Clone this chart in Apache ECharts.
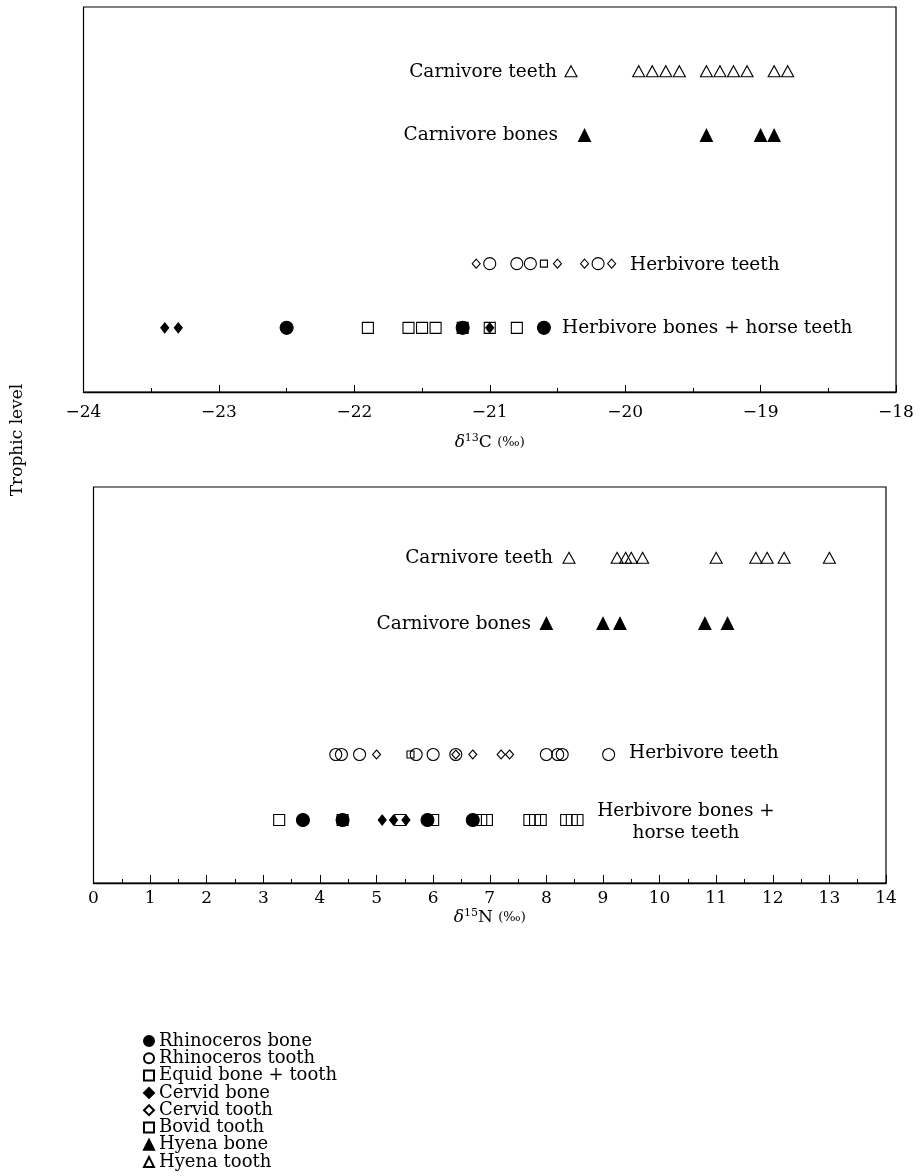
<!DOCTYPE html>
<html>
<head>
<meta charset="utf-8">
<script src="https://cdn.jsdelivr.net/npm/echarts@6/dist/echarts.min.js"></script>
<style>
  html, body { margin: 0; padding: 0; background: #fff; }
  #chart { width: 920px; height: 1176px; }
</style>
</head>
<body>
<div id="chart"></div>
<script>
// ---- Row levels (trophic rows, bottom to top) ----
const rowNames = ['Herbivore bones + horse teeth', 'Herbivore teeth', 'Carnivore bones', 'Carnivore teeth'];
const rowLevel = [1, 2, 4, 5];

// ---- Legend categories ----
const legendNames = ['Rhinoceros bone', 'Rhinoceros tooth', 'Equid bone + tooth', 'Cervid bone',
                     'Cervid tooth', 'Bovid tooth', 'Hyena bone', 'Hyena tooth'];

// ---- δ13C values (top panel) ----
const c13HyenaTooth  = [-20.4, -19.9, -19.8, -19.7, -19.6, -19.4, -19.3, -19.2, -19.1, -18.9, -18.8];
const c13HyenaBone   = [-20.3, -19.4, -19.0, -18.9];
const c13RhinoTooth  = [-21.0, -20.8, -20.7, -20.2];
const c13CervidTooth = [-21.1, -20.5, -20.3, -20.1];
const c13BovidTooth  = [-20.6];
const c13RhinoBone   = [-22.5, -21.2, -20.6];
const c13Equid       = [-21.9, -21.6, -21.5, -21.4, -21.2, -21.0, -20.8];
const c13CervidBone  = [-23.4, -23.3, -21.0];

// ---- δ15N values (bottom panel) ----
const n15HyenaTooth  = [8.4, 9.25, 9.4, 9.5, 9.7, 11.0, 11.7, 11.9, 12.2, 13.0];
const n15HyenaBone   = [8.0, 9.0, 9.3, 10.8, 11.2];
const n15RhinoTooth  = [4.28, 4.38, 4.7, 5.7, 6.0, 6.4, 8.0, 8.2, 8.28, 9.1];
const n15CervidTooth = [5.0, 6.4, 6.7, 7.2, 7.35];
const n15BovidTooth  = [5.6];
const n15RhinoBone   = [3.7, 4.4, 5.9, 6.7];
const n15Equid       = [3.28, 4.4, 5.42, 6.0, 6.85, 6.95, 7.7, 7.8, 7.9, 8.35, 8.45, 8.55];
const n15CervidBone  = [5.1, 5.3, 5.52];

// ---- axis settings ----
const c13Axis = { min: -24, max: -18, interval: 1 };
const n15Axis = { min: 0, max: 14, interval: 1 };
const c13Rows = { min: 0, max: 6 };
const n15Rows = { min: 0.04, max: 6.08 };

const FONT = 'DejaVu Serif';
const INK = '#000';

const ROW_HB = 0, ROW_HT = 1, ROW_CB = 2, ROW_CT = 3;

const styles = {
  'Rhinoceros bone':    { symbol: 'circle',   size: 13,       fill: INK },
  'Rhinoceros tooth':   { symbol: 'circle',   size: 12,       fill: 'transparent' },
  'Equid bone + tooth': { symbol: 'rect',     size: 11,       fill: 'transparent' },
  'Cervid bone':        { symbol: 'diamond',  size: [8, 10],  fill: INK },
  'Cervid tooth':       { symbol: 'diamond',  size: [8, 9],   fill: 'transparent' },
  'Bovid tooth':        { symbol: 'rect',     size: 7,        fill: 'transparent' },
  'Hyena bone':         { symbol: 'triangle', size: [12, 12], fill: INK },
  'Hyena tooth':        { symbol: 'triangle', size: [12, 11], fill: 'transparent' }
};

function mk(name, values, row, gridIdx) {
  const s = styles[name];
  return {
    name: name,
    type: 'scatter',
    xAxisIndex: gridIdx,
    yAxisIndex: gridIdx,
    symbol: s.symbol,
    symbolSize: s.size,
    itemStyle: { color: s.fill, borderColor: INK, borderWidth: 1.1, opacity: 1 },
    emphasis: { disabled: true },
    silent: true,
    z: s.fill === INK ? 3 : 2,
    data: values.map(v => [v, rowLevel[row]])
  };
}

const series = [
  mk('Equid bone + tooth', c13Equid, ROW_HB, 0),
  mk('Bovid tooth', c13BovidTooth, ROW_HT, 0),
  mk('Rhinoceros tooth', c13RhinoTooth, ROW_HT, 0),
  mk('Cervid tooth', c13CervidTooth, ROW_HT, 0),
  mk('Rhinoceros bone', c13RhinoBone, ROW_HB, 0),
  mk('Cervid bone', c13CervidBone, ROW_HB, 0),
  mk('Hyena bone', c13HyenaBone, ROW_CB, 0),
  mk('Hyena tooth', c13HyenaTooth, ROW_CT, 0),
  mk('Equid bone + tooth', n15Equid, ROW_HB, 1),
  mk('Bovid tooth', n15BovidTooth, ROW_HT, 1),
  mk('Rhinoceros tooth', n15RhinoTooth, ROW_HT, 1),
  mk('Cervid tooth', n15CervidTooth, ROW_HT, 1),
  mk('Rhinoceros bone', n15RhinoBone, ROW_HB, 1),
  mk('Cervid bone', n15CervidBone, ROW_HB, 1),
  mk('Hyena bone', n15HyenaBone, ROW_CB, 1),
  mk('Hyena tooth', n15HyenaTooth, ROW_CT, 1)
];

function xAxisCfg(gridIndex, range, nameRich, nameGap, labelMargin, tickLen) {
  return {
    type: 'value',
    gridIndex: gridIndex,
    min: range.min, max: range.max, interval: range.interval,
    name: nameRich,
    nameLocation: 'middle',
    nameGap: nameGap,
    nameTextStyle: {
      fontFamily: FONT, fontSize: 16, color: INK,
      rich: {
        d: { fontFamily: FONT, fontSize: 17, fontStyle: 'italic', color: INK },
        sup: { fontFamily: FONT, fontSize: 11, color: INK, padding: [0, 0, 9, 0] },
        t: { fontFamily: FONT, fontSize: 17, color: INK },
        p: { fontFamily: FONT, fontSize: 13, color: INK }
      }
    },
    axisLine: { show: true, onZero: false, lineStyle: { color: INK, width: 1.3 } },
    axisTick: { show: true, inside: true, length: tickLen, lineStyle: { color: INK, width: 1 } },
    minorTick: { show: true, splitNumber: 2, length: 4, lineStyle: { color: INK, width: 1 } },
    splitLine: { show: false },
    axisLabel: {
      margin: labelMargin,
      fontFamily: FONT, fontSize: 17, color: INK,
      formatter: v => String(v).replace('-', '\u2212')
    }
  };
}

function yAxisCfg(gridIndex, rows) {
  return {
    type: 'value', gridIndex: gridIndex, min: rows.min, max: rows.max,
    axisLine: { show: false }, axisTick: { show: false },
    axisLabel: { show: false }, splitLine: { show: false }
  };
}

const labelStyle = { fontFamily: FONT, fontSize: 18.5, fill: INK };
function rowText(text, x, y, align) {
  return { type: 'text', x: x, y: y, silent: true,
    style: Object.assign({ text: text, textAlign: align, textVerticalAlign: 'middle' }, labelStyle) };
}

const option = {
  animation: false,
  backgroundColor: '#fff',
  grid: [
    { left: 83.5, right: 24, top: 7, height: 385, show: true, borderColor: INK, borderWidth: 1.2, backgroundColor: 'transparent' },
    { left: 93.5, right: 34, top: 487, height: 396, show: true, borderColor: INK, borderWidth: 1.2, backgroundColor: 'transparent' }
  ],
  xAxis: [
    xAxisCfg(0, c13Axis, '{d|δ}{sup|13}{t|C }{p|(‰)}', 41, 12, 7),
    xAxisCfg(1, n15Axis, '{d|δ}{sup|15}{t|N }{p|(‰)}', 23, 7, 8)
  ],
  yAxis: [yAxisCfg(0, c13Rows), yAxisCfg(1, n15Rows)],
  legend: {
    orient: 'vertical',
    left: 143, top: 1032,
    itemWidth: 10, itemHeight: 10, itemGap: -0.7,
    padding: 0,
    selectedMode: false,
    textStyle: { fontFamily: FONT, fontSize: 18, color: INK },
    data: legendNames
  },
  graphic: [
    rowText(rowNames[3], 557, 72, 'right'),
    rowText(rowNames[2], 558, 135, 'right'),
    rowText(rowNames[1], 630, 265, 'left'),
    rowText(rowNames[0], 562, 328, 'left'),
    rowText(rowNames[3], 553, 558, 'right'),
    rowText(rowNames[2], 531, 624, 'right'),
    rowText(rowNames[1], 629, 753, 'left'),
    { type: 'text', x: 686, y: 822, silent: true,
      style: Object.assign({ text: 'Herbivore bones +\nhorse teeth', textAlign: 'center', textVerticalAlign: 'middle', lineHeight: 22 }, labelStyle) },
    { type: 'text', x: 18, y: 440, rotation: Math.PI / 2, silent: true,
      style: { text: 'Trophic level', fontFamily: FONT, fontSize: 17, fill: INK, textAlign: 'center', textVerticalAlign: 'middle' } }
  ],
  series: series
};

const chart = echarts.init(document.getElementById('chart'), null, { renderer: 'canvas' });
chart.setOption(option);
</script>
</body>
</html>
